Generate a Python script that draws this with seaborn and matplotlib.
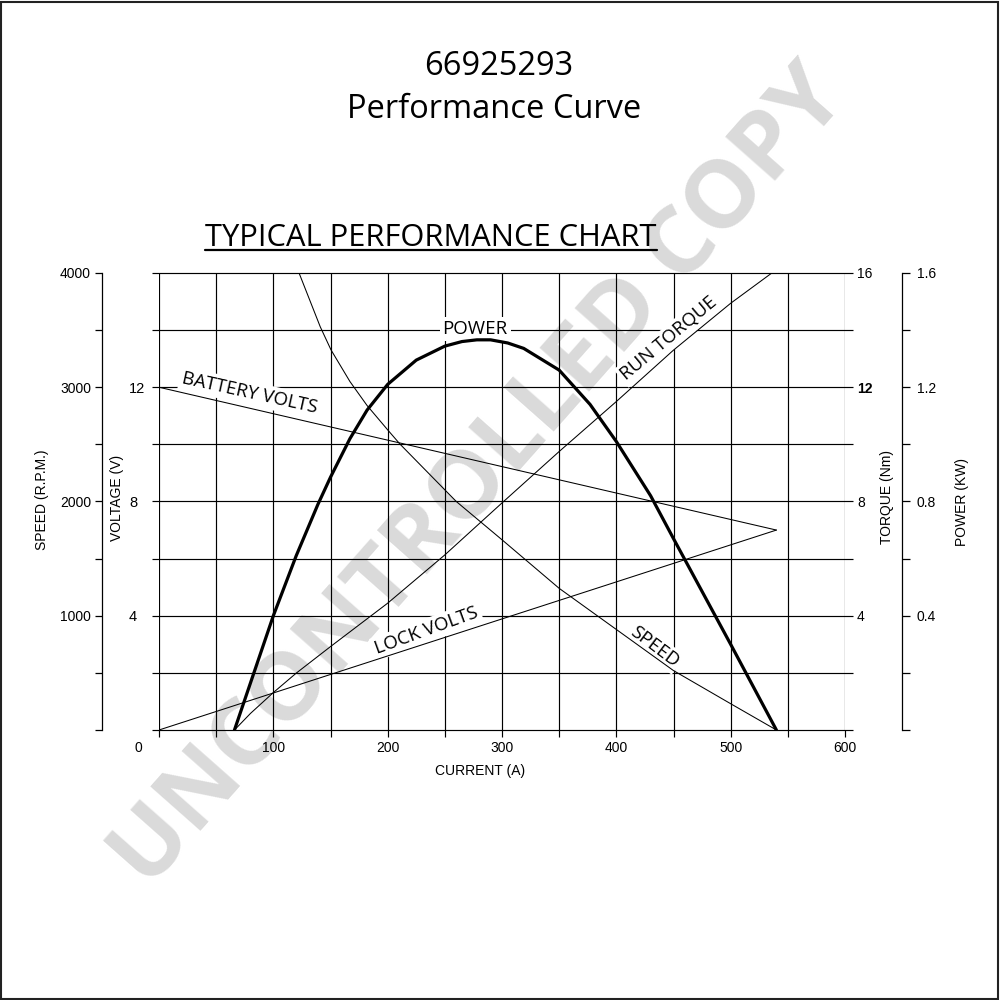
import numpy as np
import matplotlib
matplotlib.use('Agg')
import matplotlib.pyplot as plt
from matplotlib.lines import Line2D
from matplotlib.patches import Rectangle
import seaborn as sns

# ---- values ----
current_ticks = [100, 200, 300, 400, 500, 600]
speed_ticks = [1000, 2000, 3000, 4000]
volt_ticks = [4, 8, 12]
torque_ticks = [4, 8, 12, 16]
power_ticks = [0.4, 0.8, 1.2, 1.6]

# power (kW) vs current (A)
power_current = [66, 100, 120, 139, 150, 167, 182, 200, 225, 250, 265, 278, 290,
                 305, 319, 350, 377, 400, 430, 450, 500, 540]
power_kw = [0.0, 0.40, 0.61, 0.79, 0.885, 1.02, 1.12, 1.21, 1.295, 1.344, 1.36,
            1.366, 1.366, 1.355, 1.336, 1.26, 1.14, 1.01, 0.82, 0.67, 0.30, 0.0]

# speed (rpm) vs current
speed_current = [122.5, 141, 150.5, 167, 182, 200.6, 211, 260, 300, 350, 400, 450, 500, 540]
speed_rpm = [4000, 3530, 3326, 3050, 2840, 2620, 2500, 2000, 1665, 1240, 880, 520, 230, 0]

# run torque (Nm) vs current
torque_current = [66, 80, 100, 120, 150, 200, 250, 300, 350, 400, 450, 500, 536]
torque_nm = [0.0, 0.58, 1.31, 1.99, 2.92, 4.44, 6.13, 7.95, 9.75, 11.5, 13.3, 14.94, 16.0]

# battery / lock volts
battery_current = [0, 540]
battery_volts = [12.0, 7.0]
lock_current = [0, 540]
lock_volts = [0.0, 7.0]

NARROW = ['Liberation Sans Narrow', 'Liberation Sans', 'DejaVu Sans']
SANS = ['Open Sans', 'DejaVu Sans']
TICK_FS = 10

sns.set_theme(style='white')
plt.rcParams['font.family'] = NARROW
plt.rcParams['axes.edgecolor'] = 'black'
plt.rcParams['text.color'] = 'black'
plt.rcParams['axes.labelcolor'] = 'black'
plt.rcParams['xtick.color'] = 'black'
plt.rcParams['ytick.color'] = 'black'

fig = plt.figure(figsize=(10, 10), dpi=100)
fig.patch.set_facecolor('white')

# watermark behind everything
fig.text(0.48, 0.522, 'UNCONTROLLED COPY', rotation=48.5, rotation_mode='anchor',
         ha='center', va='center', fontsize=68, fontweight='bold', family=SANS,
         color='#dadada', zorder=-1)

ax = fig.add_axes([0.159, 0.27, 0.686, 0.457])
ax.patch.set_visible(False)
ax_v = ax.twinx()
ax_t = ax.twinx()
ax_p = ax.twinx()

# grid
grid_x = np.arange(0, 601, 50)
grid_y = np.arange(0, 4001, 500)
ax.vlines(grid_x, 0, 4000, color='black', lw=0.85, zorder=1)
ax.hlines(grid_y, -6, 607, color='black', lw=0.85, zorder=1, clip_on=False)

# curves
sns.lineplot(x=speed_current, y=speed_rpm, ax=ax, color='black', linewidth=0.75, zorder=3)
sns.lineplot(x=battery_current, y=battery_volts, ax=ax_v, color='black', linewidth=0.75)
sns.lineplot(x=lock_current, y=lock_volts, ax=ax_v, color='black', linewidth=0.75)
sns.lineplot(x=torque_current, y=torque_nm, ax=ax_t, color='black', linewidth=0.75)
sns.lineplot(x=power_current, y=power_kw, ax=ax_p, color='black', linewidth=2.3)

# limits
ax.set_xlim(0, 600)
ax.set_ylim(0, 4000)
ax_v.set_ylim(0, 16)
ax_t.set_ylim(0, 16)
ax_p.set_ylim(0, 1.6)

for a in (ax, ax_v, ax_t, ax_p):
    for s in a.spines.values():
        s.set_visible(False)

# speed axis (left, offset)
ax.spines['left'].set_visible(True)
ax.spines['left'].set_position(('outward', 41))
ax.spines['left'].set_linewidth(0.9)
ax.set_yticks([0] + speed_ticks, [''] + [str(v) for v in speed_ticks])
ax.set_yticks(grid_y, minor=True)
ax.tick_params(axis='y', which='both', direction='out', length=5, width=0.9,
               left=True, pad=3, labelsize=TICK_FS)
ax.set_ylabel('SPEED (R.P.M.)', fontsize=TICK_FS, va='center')
ax.yaxis.set_label_coords(-0.1706, 0.503)

# current axis
ax.set_xticks(current_ticks, [str(v) for v in current_ticks])
ax.set_xticks(grid_x, minor=True)
ax.tick_params(axis='x', which='both', direction='out', length=5, width=0.85,
               bottom=True, pad=3, labelsize=TICK_FS)
ax.set_xlabel('CURRENT (A)', fontsize=TICK_FS, va='center')
ax.xaxis.set_label_coords(0.468, -0.0897)
ax.annotate('0', xy=(0, 0), xytext=(-21, -18), textcoords='offset pixels',
            ha='center', va='center', fontsize=TICK_FS)

# voltage axis (left, labels only)
ax_v.yaxis.tick_left()
ax_v.yaxis.set_label_position('left')
ax_v.set_yticks(volt_ticks, [str(v) for v in volt_ticks], ha='left')
ax_v.tick_params(axis='y', length=0, pad=21.6, labelsize=TICK_FS + 0.5)
ax_v.set_ylabel('VOLTAGE (V)', fontsize=TICK_FS, va='center')
ax_v.yaxis.set_label_coords(-0.0612, 0.508)

# torque axis (right, labels only)
ax_t.set_yticks(torque_ticks, [str(v) for v in torque_ticks])
ax_t.tick_params(axis='y', length=0, pad=8.6, labelsize=TICK_FS, right=True, labelright=True)
for lbl in ax_t.get_yticklabels():
    if lbl.get_text() == '12':
        lbl.set_fontweight('bold')
ax_t.set_ylabel('TORQUE (Nm)', fontsize=TICK_FS, va='center')
ax_t.yaxis.set_label_coords(1.0608, 0.51)

# power axis (right, offset)
ax_p.spines['right'].set_visible(True)
ax_p.spines['right'].set_position(('outward', 41))
ax_p.spines['right'].set_linewidth(0.9)
ax_p.set_yticks([0] + power_ticks, [''] + [f'{v:.1f}' for v in power_ticks])
ax_p.set_yticks(np.linspace(0, 1.6, 9), minor=True)
ax_p.tick_params(axis='y', which='both', direction='out', length=5.8, width=0.9,
                 right=True, pad=5, labelsize=TICK_FS)
ax_p.set_ylabel('POWER (KW)', fontsize=TICK_FS, va='center')
ax_p.yaxis.set_label_coords(1.170, 0.499)

# curve labels
lab = dict(ha='center', va='center', rotation_mode='anchor', fontsize=13.5, family=SANS,
           zorder=2, bbox=dict(boxstyle='square,pad=0.15', fc='white', ec='none'))
ax.text(79.6, 11.79, 'BATTERY VOLTS', rotation=-12.5, transform=ax_v.transData, **lab)
ax.text(234.2, 3.48, 'LOCK VOLTS', rotation=20, transform=ax_v.transData, **lab)
ax.text(433, 729, 'SPEED', rotation=-37, **lab)
ax.text(446.2, 13.71, 'RUN TORQUE', rotation=40, transform=ax_t.transData, **lab)
ax.text(276.5, 1.404, 'POWER', rotation=0, transform=ax_p.transData, **lab)

# titles
fig.text(0.499, 0.925, '66925293', ha='center', va='baseline', fontsize=23.5, family=SANS)
fig.text(0.494, 0.882, 'Performance Curve', ha='center', va='baseline', fontsize=23.5, family=SANS)
chart_title = fig.text(0.431, 0.754, 'TYPICAL PERFORMANCE CHART', ha='center',
                       va='baseline', fontsize=22.2, family=SANS)

# underline the chart title
fig.canvas.draw()
bb = chart_title.get_window_extent()
(fx0, _), (fx1, _) = fig.transFigure.inverted().transform([(bb.x0, bb.y0), (bb.x1, bb.y0)])
fig.add_artist(Line2D([fx0, fx1], [0.7505, 0.7505], transform=fig.transFigure,
                      color='black', lw=1.6))

# page border
fig.add_artist(Rectangle((0.001, 0.001), 0.997, 0.997, transform=fig.transFigure,
                         fill=False, ec='#222222', lw=1.5))

fig.savefig('out.png', dpi=100)
